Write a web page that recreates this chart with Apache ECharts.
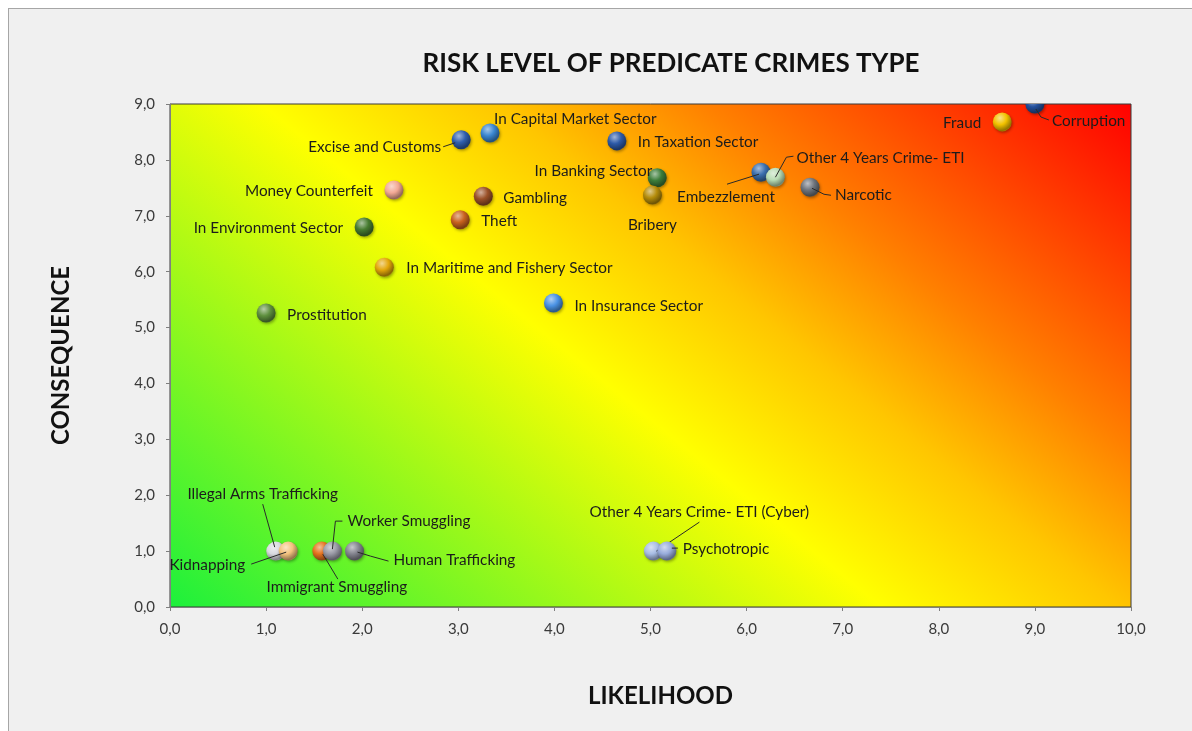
<!DOCTYPE html>
<html>
<head>
<meta charset="utf-8">
<script src="https://cdn.jsdelivr.net/npm/echarts@6/dist/echarts.min.js"></script>
<style>
  html, body { margin: 0; padding: 0; background: #ffffff; overflow: hidden; }
  #frame { position: absolute; left: 8px; top: 8px; width: 1200px; height: 740px;
           border-left: 1px solid #a6a6a6; border-top: 1px solid #a6a6a6; background: #f0f0f0; }
  #chart { position: absolute; left: 0; top: 0; width: 1192px; height: 731px; }
</style>
</head>
<body>
<div id="frame"></div>
<div id="chart"></div>
<script>
// Predicate crime types with their likelihood / consequence scores
const crimes = [
  'Excise and Customs', 'In Capital Market Sector', 'In Taxation Sector',
  'In Banking Sector', 'Bribery', 'Money Counterfeit', 'Gambling', 'Theft',
  'In Environment Sector', 'In Maritime and Fishery Sector', 'Prostitution',
  'In Insurance Sector', 'Embezzlement', 'Other 4 Years Crime- ETI', 'Narcotic',
  'Fraud', 'Corruption', 'Illegal Arms Trafficking', 'Kidnapping',
  'Immigrant Smuggling', 'Worker Smuggling', 'Human Trafficking',
  'Other 4 Years Crime- ETI (Cyber)', 'Psychotropic'
];
const likelihood = [
  3.03, 3.33, 4.65,
  5.07, 5.02, 2.33, 3.26, 3.02,
  2.02, 2.23, 1.00,
  3.99, 6.15, 6.30, 6.66,
  8.66, 9.00, 1.10, 1.23,
  1.58, 1.69, 1.92,
  5.03, 5.17
];
const consequence = [
  8.36, 8.48, 8.34,
  7.68, 7.37, 7.46, 7.35, 6.93,
  6.80, 6.08, 5.26,
  5.44, 7.78, 7.69, 7.51,
  8.68, 9.00, 1.00, 1.00,
  1.00, 1.00, 1.00,
  1.00, 1.00
];
const xTicks = [0, 1, 2, 3, 4, 5, 6, 7, 8, 9, 10];
const yTicks = [0, 1, 2, 3, 4, 5, 6, 7, 8, 9];

// Sphere colours
const ballColor = {
  'Excise and Customs': '#2f5fae',
  'In Capital Market Sector': '#3a86d0',
  'In Taxation Sector': '#2d5aa8',
  'In Banking Sector': '#3c7d3a',
  'Bribery': '#b48c0a',
  'Money Counterfeit': '#f2a894',
  'Gambling': '#9a5028',
  'Theft': '#c8621e',
  'In Environment Sector': '#477c30',
  'In Maritime and Fishery Sector': '#e3a70a',
  'Prostitution': '#5e8f3e',
  'In Insurance Sector': '#4a92e4',
  'Embezzlement': '#3b6fae',
  'Other 4 Years Crime- ETI': '#b8dcb4',
  'Narcotic': '#6e747c',
  'Fraud': '#f2c200',
  'Corruption': '#24519e',
  'Illegal Arms Trafficking': '#d9d9e0',
  'Kidnapping': '#f3c27e',
  'Immigrant Smuggling': '#e5721e',
  'Worker Smuggling': '#9a9aa6',
  'Human Trafficking': '#84848f',
  'Other 4 Years Crime- ETI (Cyber)': '#a8bce4',
  'Psychotropic': '#98acdc'
};

// Label placement in pixels relative to the sphere centre; optional leader polylines
const labelPlace = {
  'Excise and Customs': { align: 'right', dx: -20, dy: 7, lead: [[-18, 7], [-6, 3]] },
  'In Capital Market Sector': { align: 'left', dx: 4, dy: -14 },
  'In Taxation Sector': { align: 'left', dx: 21, dy: 1 },
  'In Banking Sector': { align: 'right', dx: -5, dy: -7 },
  'Bribery': { align: 'center', dx: 0, dy: 30 },
  'Money Counterfeit': { align: 'right', dx: -21, dy: 1 },
  'Gambling': { align: 'left', dx: 20, dy: 2 },
  'Theft': { align: 'left', dx: 21, dy: 1 },
  'In Environment Sector': { align: 'right', dx: -21, dy: 1 },
  'In Maritime and Fishery Sector': { align: 'left', dx: 22, dy: 1 },
  'Prostitution': { align: 'left', dx: 21, dy: 2 },
  'In Insurance Sector': { align: 'left', dx: 21, dy: 3 },
  'Embezzlement': { align: 'center', dx: -35, dy: 25, lead: [[-34, 12], [-2, 2]] },
  'Other 4 Years Crime- ETI': { align: 'left', dx: 21, dy: -19, lead: [[0, 0], [11, -20], [18, -21]] },
  'Narcotic': { align: 'left', dx: 25, dy: 8, lead: [[2, 1], [14, 7], [21, 8]] },
  'Fraud': { align: 'right', dx: -21, dy: 1 },
  'Corruption': { align: 'left', dx: 17, dy: 17, lead: [[1, 5], [6, 13], [14, 16]] },
  'Illegal Arms Trafficking': { align: 'center', dx: -13, dy: -57, lead: [[-13, -47], [-1, -4]] },
  'Kidnapping': { align: 'right', dx: -43, dy: 14, lead: [[-37, 13], [-2, 1]] },
  'Immigrant Smuggling': { align: 'center', dx: 15, dy: 36, lead: [[1, 3], [16, 28]] },
  'Worker Smuggling': { align: 'left', dx: 15, dy: -30, lead: [[0, -2], [3, -30], [10, -30]] },
  'Human Trafficking': { align: 'left', dx: 39, dy: 9, lead: [[3, 1], [16, 5], [34, 10]] },
  'Other 4 Years Crime- ETI (Cyber)': { align: 'center', dx: 46, dy: -39, lead: [[46, -29], [3, 0]] },
  'Psychotropic': { align: 'left', dx: 16, dy: -2, lead: [[5, -3], [11, -3]] }
};

const GRID = { left: 170, top: 104, width: 961, height: 503 };
const BALL_R = 9.5;
const FONT = 'Lato, "Open Sans", sans-serif';

function hexToRgb(h) {
  const n = parseInt(h.slice(1), 16);
  return [(n >> 16) & 255, (n >> 8) & 255, n & 255];
}
function mix(h, target, t) {
  const a = hexToRgb(h), b = hexToRgb(target);
  const c = a.map((v, i) => Math.round(v + (b[i] - v) * t));
  return 'rgb(' + c.join(',') + ')';
}
function sphereFill(c) {
  return {
    type: 'radial', x: 0.38, y: 0.3, r: 0.78,
    colorStops: [
      { offset: 0, color: mix(c, '#ffffff', 0.55) },
      { offset: 0.45, color: c },
      { offset: 0.85, color: mix(c, '#000000', 0.4) },
      { offset: 1, color: mix(c, '#000000', 0.25) }
    ]
  };
}

// Background gradient: green (low risk) to red (high risk), diagonal bands
const dirX = 503, dirY = -620;
const dLen = Math.hypot(dirX, dirY);
const proj = (GRID.width * dirX + (-GRID.height) * dirY) / dLen;
const gx2 = (dirX / dLen * proj) / GRID.width;
const gy2 = 1 + (dirY / dLen * proj) / GRID.height;
const riskGradient = new echarts.graphic.LinearGradient(0, 1, gx2, gy2, [
  { offset: 0, color: '#1cf03c' },
  { offset: 0.45, color: '#ffff00' },
  { offset: 0.6, color: '#ffc600' },
  { offset: 0.73, color: '#ff8000' },
  { offset: 1, color: '#ff0000' }
], false);

const points = crimes.map((name, i) => [likelihood[i], consequence[i], name]);
const fmt = v => v.toFixed(1).replace('.', ',');
const axisNameStyle = { fontFamily: FONT, fontWeight: 'bold', fontSize: 24, color: '#111111' };

const chart = echarts.init(document.getElementById('chart'), null, { renderer: 'canvas' });
chart.setOption({
  backgroundColor: 'transparent',
  animation: false,
  title: {
    text: 'RISK LEVEL OF PREDICATE CRIMES TYPE',
    left: 666, top: 46, textAlign: 'center',
    textStyle: { fontFamily: FONT, fontWeight: 'bold', fontSize: 26, color: '#111111' }
  },
  grid: Object.assign({
    show: true, backgroundColor: riskGradient, borderColor: '#3a3a3a', borderWidth: 1
  }, GRID),
  xAxis: {
    type: 'value', min: xTicks[0], max: xTicks[xTicks.length - 1], interval: 1,
    name: 'LIKELIHOOD', nameLocation: 'middle', nameGap: 77,
    nameTextStyle: Object.assign({ padding: [0, 0, 0, 20] }, axisNameStyle),
    axisLine: { show: true, lineStyle: { color: '#7f7f7f' } },
    axisTick: { show: true, length: 4, lineStyle: { color: '#7f7f7f' } },
    axisLabel: { formatter: fmt, fontFamily: FONT, fontSize: 15, color: '#3a3a3a', margin: 15 },
    splitLine: { show: false }
  },
  yAxis: {
    type: 'value', min: yTicks[0], max: yTicks[yTicks.length - 1], interval: 1,
    name: 'CONSEQUENCE', nameLocation: 'middle', nameGap: 97,
    nameTextStyle: axisNameStyle,
    axisLine: { show: true, lineStyle: { color: '#7f7f7f' } },
    axisTick: { show: true, length: 4, lineStyle: { color: '#7f7f7f' } },
    axisLabel: { formatter: fmt, fontFamily: FONT, fontSize: 15, color: '#3a3a3a', margin: 15 },
    splitLine: { show: false }
  },
  series: [{
    type: 'custom',
    clip: true,
    data: points,
    encode: { x: 0, y: 1 },
    renderItem: function (params, api) {
      const name = crimes[params.dataIndex];
      const p = api.coord([api.value(0), api.value(1)]);
      const place = labelPlace[name];
      const children = [{
        type: 'circle',
        shape: { cx: p[0], cy: p[1], r: BALL_R },
        style: {
          fill: sphereFill(ballColor[name]),
          shadowBlur: 3, shadowColor: 'rgba(0,0,0,0.35)', shadowOffsetX: 1, shadowOffsetY: 1.5
        }
      }];
      if (place.lead) {
        children.push({
          type: 'polyline',
          shape: { points: place.lead.map(q => [p[0] + q[0], p[1] + q[1]]) },
          style: { stroke: '#2a2a2a', lineWidth: 1, fill: null }
        });
      }
      children.push({
        type: 'text',
        x: p[0] + place.dx, y: p[1] + place.dy,
        style: {
          text: name, fill: '#1c1c1c', font: '15.3px ' + FONT,
          align: place.align, verticalAlign: 'middle'
        }
      });
      return { type: 'group', children: children };
    }
  }]
});
</script>
</body>
</html>
